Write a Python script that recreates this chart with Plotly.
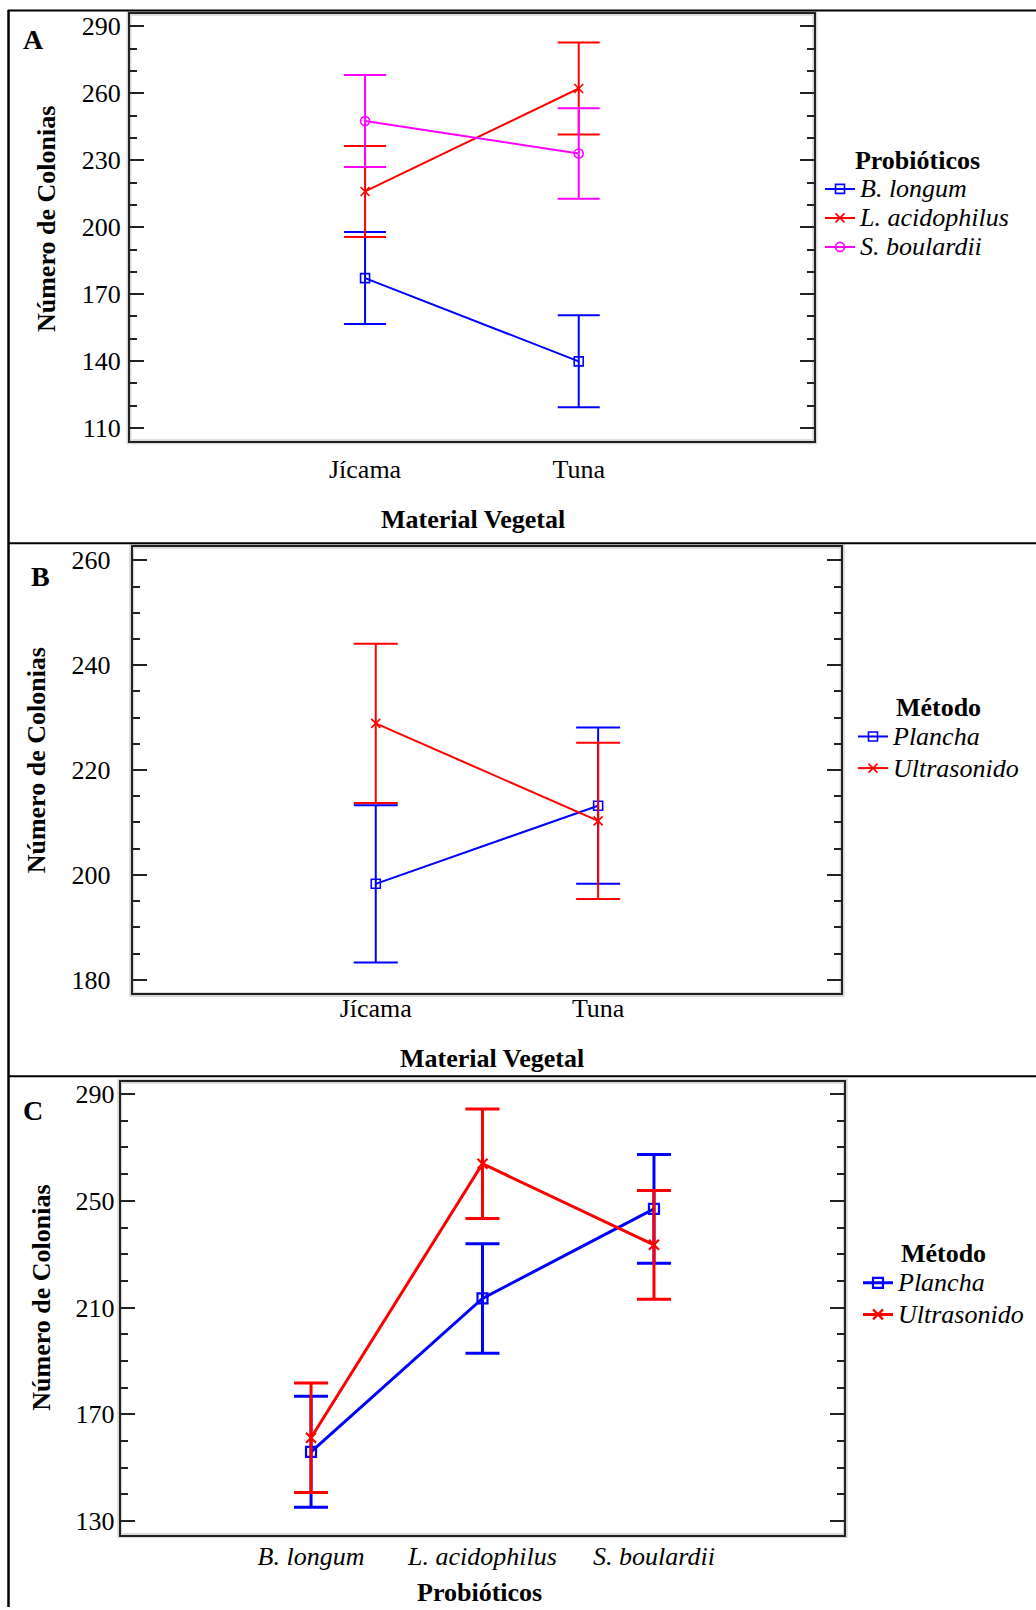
import plotly.graph_objects as go

W, H = 1036, 1610
FONT = "Liberation Serif, Times New Roman, serif"
FS = 26

# ---- Panel A: colonies by plant material and probiotic ----
material = ["Jícama", "Tuna"]
probioticos = ["B. longum", "L. acidophilus", "S. boulardii"]
a_means = {
    "B. longum": [177.2, 139.9],
    "L. acidophilus": [216.0, 262.1],
    "S. boulardii": [247.5, 233.0],
}
a_err = {
    "B. longum": [20.6, 20.6],
    "L. acidophilus": [20.4, 20.6],
    "S. boulardii": [20.6, 20.3],
}
a_colors = {"B. longum": "#0000FF", "L. acidophilus": "#FF0000", "S. boulardii": "#FF00FF"}
a_symbols = {"B. longum": "square-open", "L. acidophilus": "x-thin-open", "S. boulardii": "circle-open"}

# ---- Panel B: colonies by plant material and method ----
metodos = ["Plancha", "Ultrasonido"]
b_means = {"Plancha": [198.3, 213.2], "Ultrasonido": [228.9, 210.3]}
b_err = {"Plancha": [15.0, 14.9], "Ultrasonido": [15.2, 14.9]}

# ---- Panel C: colonies by probiotic and method ----
c_means = {"Plancha": [155.9, 213.4, 247.0], "Ultrasonido": [161.2, 263.9, 233.5]}
c_err = {"Plancha": [20.8, 20.5, 20.4], "Ultrasonido": [20.5, 20.5, 20.4]}

m_colors = {"Plancha": "#0000FF", "Ultrasonido": "#FF0000"}
m_symbols = {"Plancha": "square-open", "Ultrasonido": "x-thin-open"}


def px_x(x):
    return x / W


def px_y(y):
    return 1 - y / H


def legend_name(s):
    # legend rows are spaced by the legend font; the label itself is drawn larger
    return f'<span style="font-size:{FS}px">{s}</span>'


fig = go.Figure()

# Panel A traces
for p in probioticos:
    fig.add_trace(go.Scatter(
        x=list(range(len(material))), y=a_means[p], name=legend_name(p),
        mode="lines+markers", xaxis="x", yaxis="y", legend="legend",
        line=dict(color=a_colors[p], width=2),
        marker=dict(symbol=a_symbols[p], size=9, color=a_colors[p],
                    line=dict(color=a_colors[p], width=1.6)),
        error_y=dict(type="data", array=a_err[p], color=a_colors[p],
                     thickness=2, width=21),
    ))

# Panel B traces
for m in metodos:
    fig.add_trace(go.Scatter(
        x=list(range(len(material))), y=b_means[m], name=legend_name(m),
        mode="lines+markers", xaxis="x2", yaxis="y2", legend="legend2",
        line=dict(color=m_colors[m], width=2),
        marker=dict(symbol=m_symbols[m], size=9, color=m_colors[m],
                    line=dict(color=m_colors[m], width=1.6)),
        error_y=dict(type="data", array=b_err[m], color=m_colors[m],
                     thickness=2, width=22),
    ))

# Panel C traces
for m in metodos:
    fig.add_trace(go.Scatter(
        x=list(range(len(probioticos))), y=c_means[m], name=legend_name(m),
        mode="lines+markers", xaxis="x3", yaxis="y3", legend="legend3",
        line=dict(color=m_colors[m], width=3),
        marker=dict(symbol=m_symbols[m], size=10, color=m_colors[m],
                    line=dict(color=m_colors[m], width=2.2)),
        error_y=dict(type="data", array=c_err[m], color=m_colors[m],
                     thickness=3, width=17),
    ))

# plot frames in pixels: left, right, top, bottom
frames = {
    "A": (130, 813.8, 12.2, 440),
    "B": (132.7, 841.2, 546.9, 994.5),
    "C": (120.7, 844.3, 1083.5, 1537.3),
}


def xaxis(frame, rng, labels, standoff, italic=False):
    l, r, t, b = frame
    text = [f"<i>{s}</i>" if italic else s for s in labels]
    return dict(
        domain=[px_x(l), px_x(r)], range=rng, tickvals=list(range(len(labels))),
        ticktext=text, ticks="", showline=True, mirror=True, linecolor="#222222",
        linewidth=2, showgrid=False, zeroline=False, ticklabelstandoff=standoff,
        tickfont=dict(family=FONT, size=FS, color="black"),
    )


def yaxis(frame, rng, tick0, dtick, mdtick, standoff):
    l, r, t, b = frame
    return dict(
        domain=[px_y(b), px_y(t)], range=rng, tick0=tick0, dtick=dtick,
        ticks="inside", ticklen=14, tickwidth=2, tickcolor="#222222",
        showline=True, mirror="ticks", linecolor="#222222", linewidth=2,
        showgrid=False, zeroline=False, ticklabelstandoff=standoff,
        tickfont=dict(family=FONT, size=FS, color="black"),
        minor=dict(tick0=tick0, dtick=mdtick, ticks="inside", ticklen=7,
                   tickwidth=2, tickcolor="#222222", showgrid=False),
    )


def legend(x, y, title, row_font):
    return dict(
        x=px_x(x), y=px_y(y), xanchor="left", yanchor="top",
        bgcolor="rgba(0,0,0,0)", borderwidth=0, itemwidth=30, tracegroupgap=0,
        font=dict(family=FONT, size=row_font, color="black", style="italic"),
        title=dict(text=f"<b>{title}</b>", side="top center",
                   font=dict(family=FONT, size=FS, color="black", style="normal")),
    )


fig.update_layout(
    width=W, height=H, margin=dict(l=0, r=0, t=0, b=0),
    paper_bgcolor="white", plot_bgcolor="white",
    font=dict(family=FONT, size=FS, color="black"),
    xaxis=xaxis(frames["A"], [-1.1, 2.1], material, 4),
    yaxis=yaxis(frames["A"], [104.4, 295.4], 110, 30, 10, 2),
    xaxis2=dict(xaxis(frames["B"], [-1.093, 2.093], material, -10), anchor="y2"),
    yaxis2=dict(yaxis(frames["B"], [177.4, 262.5], 180, 20, 5, 15), anchor="x2"),
    xaxis3=dict(xaxis(frames["C"], [-1.11, 3.11], probioticos, -3, italic=True), anchor="y3"),
    yaxis3=dict(yaxis(frames["C"], [124.9, 294.5], 130, 40, 10, -1), anchor="x3"),
    legend=legend(820, 134, "Probióticos", 20),
    legend2=legend(853, 682, "Método", 22),
    legend3=legend(858, 1230, "Método", 22),
    showlegend=True,
)

shapes = []
# soft grey halo behind each plot frame
for l, r, t, b in frames.values():
    shapes.append(dict(type="rect", xref="paper", yref="paper", layer="below",
                       x0=px_x(l - 1), x1=px_x(r + 1), y0=px_y(b + 1), y1=px_y(t - 1),
                       line=dict(color="#d8d8d8", width=5)))
# table rules separating the three panels
for y in (8.5, 543, 1077.5):
    shapes.append(dict(type="line", xref="paper", yref="paper",
                       x0=px_x(8), x1=1, y0=px_y(y), y1=px_y(y),
                       line=dict(color="black", width=2)))
shapes.append(dict(type="line", xref="paper", yref="paper",
                   x0=px_x(8.5), x1=px_x(8.5), y0=px_y(8), y1=0,
                   line=dict(color="black", width=2.5)))
fig.update_layout(shapes=shapes)

annotations = []
for letter, (x, y) in {"A": (33, 37.5), "B": (40, 576), "C": (33, 1112)}.items():
    annotations.append(dict(text=f"<b>{letter}</b>", x=px_x(x), y=px_y(y),
                            xref="paper", yref="paper", showarrow=False,
                            xanchor="center", yanchor="middle",
                            font=dict(family=FONT, size=28, color="black")))
for x, y in ((46.7, 218), (36.7, 761), (41.7, 1300)):
    annotations.append(dict(text="<b>Número de Colonias</b>", x=px_x(x), y=px_y(y),
                            xref="paper", yref="paper", showarrow=False, textangle=-90,
                            xanchor="center", yanchor="middle",
                            font=dict(family=FONT, size=FS, color="black")))
for text, (x, y) in (("Material Vegetal", (473, 519.6)),
                     ("Material Vegetal", (492, 1060)),
                     ("Probióticos", (479.5, 1595))):
    annotations.append(dict(text=f"<b>{text}</b>", x=px_x(x), y=px_y(y),
                            xref="paper", yref="paper", showarrow=False,
                            xanchor="center", yanchor="middle",
                            font=dict(family=FONT, size=FS, color="black")))
fig.update_layout(annotations=annotations)

fig.write_html("out.html")
